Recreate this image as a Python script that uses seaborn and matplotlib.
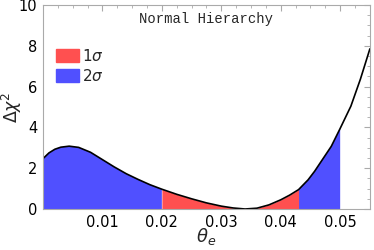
import numpy as np
import pandas as pd
import matplotlib.pyplot as plt
import seaborn as sns
from matplotlib.patches import Patch
from matplotlib.ticker import MultipleLocator

# values
theta = [0.0, 0.001, 0.002, 0.003, 0.0044, 0.006, 0.008, 0.010, 0.012, 0.014,
         0.016, 0.018, 0.020, 0.0225, 0.025, 0.0275, 0.030, 0.032, 0.034,
         0.036, 0.038, 0.040, 0.0415, 0.043, 0.0446, 0.0457, 0.0468, 0.0485,
         0.050, 0.0518, 0.0534, 0.055]
dchi2 = [2.47, 2.75, 2.93, 3.03, 3.08, 3.02, 2.78, 2.42, 2.06, 1.73,
         1.45, 1.19, 0.97, 0.72, 0.50, 0.30, 0.14, 0.05, 0.0,
         0.04, 0.20, 0.45, 0.68, 0.95, 1.43, 1.85, 2.33, 3.07,
         3.95, 5.04, 6.36, 7.85]
one_sigma = (0.020, 0.043)
two_sigma_hi = 0.050

df = pd.DataFrame({"theta": theta, "dchi2": dchi2})
x = df["theta"].to_numpy()
y = df["dchi2"].to_numpy()

red = "#ff5050"
blue = "#5050ff"

sns.set_style("white")
fig = plt.figure(figsize=(3.74, 2.5), dpi=100)
ax = fig.add_axes([0.115, 0.164, 0.874, 0.816])

blue_mask = (x <= one_sigma[0]) | ((x >= one_sigma[1]) & (x <= two_sigma_hi))
red_mask = (x >= one_sigma[0]) & (x <= one_sigma[1])
ax.fill_between(x, 0, y, where=blue_mask, color=blue, lw=0)
ax.fill_between(x, 0, y, where=red_mask, color=red, lw=0)
sns.lineplot(data=df, x="theta", y="dchi2", color="black", lw=1.2, ax=ax)

ax.set_xlim(0, 0.055)
ax.set_ylim(0, 10)
ax.set_xticks([0.01, 0.02, 0.03, 0.04, 0.05])
ax.set_xticklabels(["0.01", "0.02", "0.03", "0.04", "0.05"])
ax.set_yticks([0, 2, 4, 6, 8, 10])
ax.xaxis.set_minor_locator(MultipleLocator(0.0025))
ax.yaxis.set_minor_locator(MultipleLocator(0.5))
ax.tick_params(which="both", direction="in", top=True, right=True,
               color="#aaaaaa", labelsize=10.5, labelcolor="black", pad=4)
ax.tick_params(which="major", length=4, width=0.8)
ax.tick_params(which="minor", length=2, width=0.6)
for s in ax.spines.values():
    s.set_color("#aaaaaa")
    s.set_linewidth(0.8)

ax.set_xlabel(r"$\theta_e$", fontsize=13)
ax.set_ylabel(r"$\Delta\chi^2$", fontsize=12.5)
ax.xaxis.set_label_coords(0.5, -0.085)
ax.yaxis.set_label_coords(-0.058, 0.5)

ax.text(0.5, 0.93, "Normal Hierarchy", transform=ax.transAxes,
        ha="center", va="center", fontsize=10, family="Liberation Mono")

handles = [Patch(color=red, label=r"$1\sigma$"), Patch(color=blue, label=r"$2\sigma$")]
ax.legend(handles=handles, loc="upper left", bbox_to_anchor=(0.02, 0.82),
          frameon=False, fontsize=11, handlelength=1.5, handleheight=0.9,
          handletextpad=0.2, labelspacing=0.25, borderaxespad=0)

fig.savefig("out.png", dpi=100)
